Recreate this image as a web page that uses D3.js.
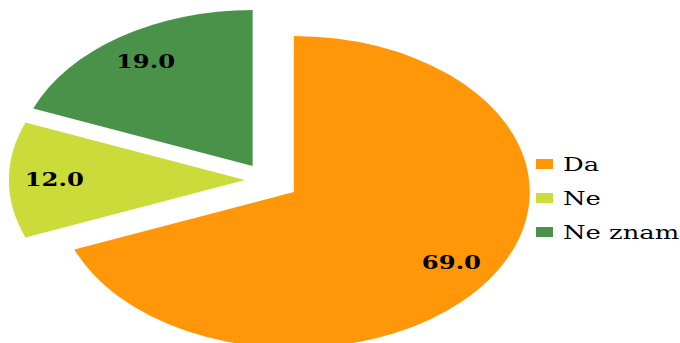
<!DOCTYPE html>
<html><head><meta charset="utf-8">
<script src="https://cdn.jsdelivr.net/npm/d3@7"></script>
<style>html,body{margin:0;padding:0;background:#fff;}svg{display:block;}</style>
</head><body>
<svg id="c" width="680" height="343"></svg>
<script>
const categories = ["Da", "Ne", "Ne znam"];
const values = [69.0, 12.0, 19.0];
const labels = ["69.0", "12.0", "19.0"];
const colors = ["#FF9708", "#CBDB3A", "#4A9249"];

const W = 680, H = 343;
const R = 156;          // vertical radius
const sx = 236 / 156;   // horizontal stretch of the ellipse
const cx = 267, cy = 180;
const explode = [21.4, 14.6, 16.9];

const svg = d3.select("#c");
const pie = d3.pie().sort(null).value(d => d)(values);
const arc = d3.arc().innerRadius(0).outerRadius(R);
const labelArc = d3.arc().innerRadius(126).outerRadius(126);
const dirArc = d3.arc().innerRadius(1).outerRadius(1);

pie.forEach((p, i) => {
  const [ux, uy] = dirArc.centroid(p);
  const ox = cx + ux * explode[i] * sx;
  const oy = cy + uy * explode[i];
  svg.append("path")
    .attr("d", arc(p))
    .attr("fill", colors[i])
    .attr("transform", `translate(${ox},${oy}) scale(${sx},1)`);
  const [lx, ly] = labelArc.centroid(p);
  svg.append("text")
    .attr("transform", `translate(${ox + lx * sx},${oy + ly}) scale(1.35,1)`)
    .attr("text-anchor", "middle")
    .attr("dy", "0.36em")
    .attr("font-family", "DejaVu Serif")
    .attr("font-weight", "bold")
    .attr("font-size", 18)
    .attr("fill", "#000")
    .text(labels[i]);
});

const legY = d3.scaleBand().domain(categories).range([147, 249]);
const lg = svg.append("g");
categories.forEach((c, i) => {
  const y = legY(c) + legY.bandwidth() / 2;
  lg.append("rect").attr("x", 536).attr("y", y - 5).attr("width", 17).attr("height", 10).attr("fill", colors[i]);
  lg.append("text")
    .attr("transform", `translate(563,${y + 7}) scale(1.36,1)`)
    .attr("font-family", "DejaVu Serif")
    .attr("font-size", 19)
    .attr("fill", "#000")
    .text(c);
});
</script>
</body></html>
